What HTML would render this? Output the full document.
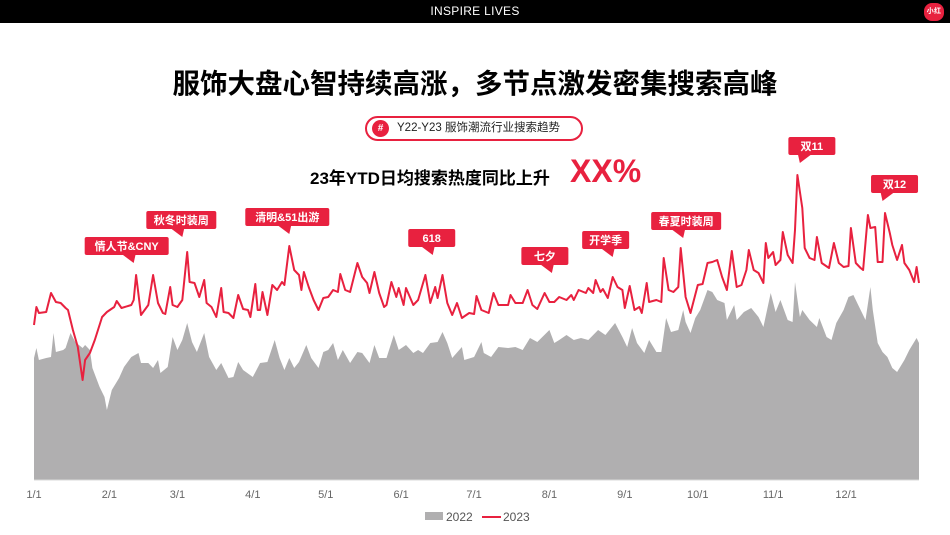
<!DOCTYPE html>
<html><head><meta charset="utf-8">
<style>
body{margin:0;width:950px;height:535px;overflow:hidden;background:#fff;font-family:"Liberation Sans","Noto Sans CJK SC",sans-serif;}
.topbar{position:absolute;left:0;top:0;width:950px;height:23px;background:#000;color:#fff;font-size:12px;text-align:center;line-height:23px;letter-spacing:0.3px}
.logo{position:absolute;right:6px;top:3px;width:20px;height:18px;border-radius:8px;background:#e8213f;color:#fff;font-size:7px;font-weight:bold;text-align:center;line-height:18px}
.title{position:absolute;left:0;width:950px;top:61px;text-align:center;font-size:27.5px;font-weight:bold;color:#000}
.pill{position:absolute;left:365px;top:116px;width:218px;height:25px;border:2px solid #e8213f;border-radius:13px;box-sizing:border-box;font-size:11.5px;line-height:21px;color:#222}
.pill .hash{position:absolute;left:5px;top:2px;width:17px;height:17px;border-radius:50%;background:#e8213f;color:#fff;text-align:center;line-height:17px;font-size:10px;font-weight:bold}
.pill .t{position:absolute;left:30px;top:0}
.sub{position:absolute;left:310px;top:164px;font-size:17px;font-weight:bold;color:#000;white-space:nowrap}
.xx{position:absolute;left:570px;top:153px;font-size:32px;font-weight:bold;color:#e8213f}
</style></head><body>
<div class="topbar">INSPIRE LIVES<div class="logo">小红书</div></div>
<div class="title">服饰大盘心智持续高涨，多节点激发密集搜索高峰</div>
<div class="pill"><span class="hash">#</span><span class="t">Y22-Y23 服饰潮流行业搜索趋势</span></div>
<div class="sub">23年YTD日均搜索热度同比上升</div>
<div class="xx">XX%</div>
<svg id="chart" width="950" height="535" style="position:absolute;left:0;top:0"></svg>
<script>
const days2023=[0,1,2,5,7,9,11,13,14,16,18,20,21,23,25,28,30,33,34,36,40,41,42,44,47,49,51,53,54,56,57,59,61,63,64,66,68,70,71,73,75,77,78,80,82,84,86,88,89,91,92,93,94,96,98,100,102,103,105,107,109,110,111,113,115,117,119,121,123,125,126,128,130,133,135,137,138,140,142,144,145,147,149,150,152,153,156,158,161,163,165,166,168,170,172,174,176,179,181,182,184,187,189,191,195,196,198,201,203,205,207,210,212,214,216,219,221,222,224,227,228,230,231,233,234,236,238,240,242,243,245,247,249,250,252,253,256,258,259,261,263,265,266,268,270,273,275,277,279,281,283,285,287,289,291,293,294,296,298,300,301,302,304,305,307,308,310,312,313,314,316,317,319,321,322,324,327,329,331,333,335,336,338,340,341,343,344,346,347,349,350,352,353,355,357,358,360,362,363,364];
const values2023=[155,173,167,168,187,178,177,172,170,150,133,100,120,127,140,163,168,173,179,172,175,180,205,165,175,205,177,167,166,193,175,173,180,228,198,197,183,200,177,173,163,192,168,167,162,185,171,170,163,196,170,170,188,165,195,190,198,195,234,210,205,190,208,193,180,170,182,183,190,188,206,190,188,217,203,197,187,208,187,173,175,198,183,192,175,192,175,180,205,177,193,182,205,177,165,177,162,167,166,184,170,167,187,175,175,185,177,177,190,175,171,187,178,178,183,180,185,180,190,187,192,187,200,188,191,182,203,193,190,172,194,170,173,167,197,178,180,178,222,190,188,193,232,183,167,195,196,217,218,220,203,190,229,193,195,210,230,210,207,197,237,222,228,215,220,248,225,217,250,305,272,232,222,220,243,217,212,237,217,213,214,252,217,212,210,265,252,253,218,218,267,247,235,220,235,217,210,198,213,197];
const days2022=[0,1,2,5,7,8,9,12,13,15,17,20,21,23,24,27,29,30,32,35,37,40,43,44,47,49,51,52,55,57,59,61,63,65,67,70,72,75,77,80,82,84,86,90,93,96,99,101,103,105,107,109,112,114,117,119,121,123,125,127,130,133,135,138,140,142,145,148,150,153,156,158,160,163,166,168,170,172,176,177,181,184,185,188,191,195,198,201,204,207,212,214,216,219,222,225,228,232,235,239,242,244,246,248,251,253,256,258,260,262,265,267,268,270,272,274,277,279,281,284,285,288,289,292,295,298,300,303,305,307,310,312,313,315,316,319,322,323,326,328,330,333,335,337,339,342,344,345,347,349,351,353,355,358,360,363,364];
const values2022=[122,132,120,122,123,147,128,130,132,147,138,132,135,130,112,93,83,70,90,102,113,123,127,117,117,112,120,107,113,143,130,140,157,138,128,147,123,110,117,102,103,118,110,103,117,118,140,122,110,122,112,118,135,122,112,128,130,137,120,130,117,128,127,117,135,122,122,145,130,135,127,130,127,137,138,148,137,122,133,120,123,138,127,123,133,132,133,130,142,138,150,137,140,145,140,142,140,150,145,157,143,133,152,137,127,140,128,128,162,148,150,170,158,147,162,170,190,188,180,177,160,175,160,168,172,163,153,187,168,180,160,158,198,163,170,160,153,162,143,140,157,170,183,185,175,160,193,170,137,128,123,112,108,120,130,142,137];
const monthDays=[0,31,59,90,120,151,181,212,243,273,304,334];
const monthLabels=["1/1","2/1","3/1","4/1","5/1","6/1","7/1","8/1","9/1","10/1","11/1","12/1"];
const eventLabels=["情人节&CNY","秋冬时装周","清明&51出游","618","七夕","开学季","春夏时装周","双11","双12"];
const eventDays=[41,61,105,164,213,238,267,315,349];
const eventLevels=[217,243,246,225,207,223,242,317,279];
const boxShift=[-7,-1,-2,-1,-7,-7,3,12,12];

const svg=document.getElementById('chart');
const NS='http://www.w3.org/2000/svg';
const X0=34,X1=919,Y0=480;
const x=d=>X0+(X1-X0)*d/364;
const y=v=>Y0-v;
function mk(t,a){const e=document.createElementNS(NS,t);for(const k in a)e.setAttribute(k,a[k]);svg.appendChild(e);return e;}

let dA='M'+x(days2022[0])+','+Y0;
days2022.forEach((d,i)=>{dA+=' L'+x(d).toFixed(1)+','+y(values2022[i]);});
dA+=' L'+x(days2022[days2022.length-1])+','+Y0+' Z';
const area=mk('path',{d:dA,fill:'#b0afb0'});



const base=mk('line',{x1:X0,x2:X1,y1:Y0,y2:Y0,stroke:'#d9d9d9','stroke-width':1});



let dL='';
days2023.forEach((d,i)=>{dL+=(i?' L':'M')+x(d).toFixed(1)+','+y(values2023[i]);});
const line=mk('path',{d:dL,fill:'none',stroke:'#e8213f','stroke-width':2,'stroke-linejoin':'round'});



monthLabels.forEach((m,i)=>{
  const t=mk('text',{x:x(monthDays[i]),y:498,'text-anchor':'middle','font-size':11,fill:'#666'});
  t.textContent=m;
  
  
});

eventLabels.forEach((lab,i)=>{
  const tx=x(eventDays[i]);const ty=y(eventLevels[i]);
  const w=lab.length>5?84:(lab.length>3?70:47);
  const bh=18, by=ty-8-bh;
  const bx=tx+boxShift[i]-w/2;
  const g=document.createElementNS(NS,'g');svg.appendChild(g);
  
  
  const r=document.createElementNS(NS,'rect');
  Object.entries({x:bx,y:by,width:w,height:bh,rx:2,fill:'#e8213f'}).forEach(([k,v])=>r.setAttribute(k,v));g.appendChild(r);
  const p=document.createElementNS(NS,'path');
  const right=boxShift[i]>5;
  p.setAttribute('d',right?`M${tx-2},${by+bh-1} L${tx+12},${by+bh-1} L${tx},${ty} Z`:`M${tx-12},${by+bh-1} L${tx+2},${by+bh-1} L${tx},${ty} Z`);
  p.setAttribute('fill','#e8213f');g.appendChild(p);
  const t=document.createElementNS(NS,'text');
  Object.entries({x:bx+w/2,y:by+13,'text-anchor':'middle','font-size':11,'font-weight':'bold',fill:'#fff'}).forEach(([k,v])=>t.setAttribute(k,v));
  t.textContent=lab;g.appendChild(t);
});

const lg1=mk('rect',{x:425,y:512,width:18,height:8,fill:'#b0afb0'});


const lt1=mk('text',{x:446,y:521,'font-size':12,fill:'#555'});lt1.textContent='2022';


const lg2=mk('line',{x1:482,x2:501,y1:517,y2:517,stroke:'#e8213f','stroke-width':2});


const lt2=mk('text',{x:503,y:521,'font-size':12,fill:'#555'});lt2.textContent='2023';


</script>
</body></html>
